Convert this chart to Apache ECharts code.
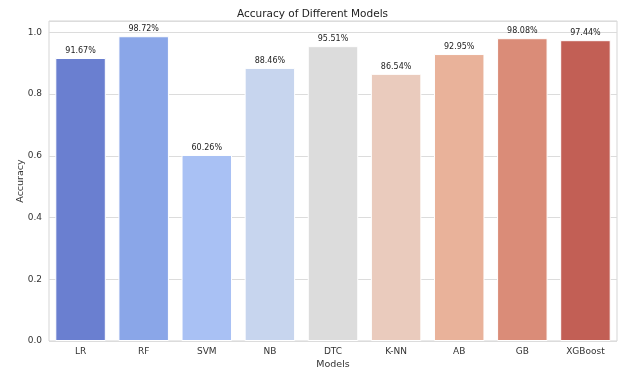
<!DOCTYPE html>
<html><head><meta charset="utf-8">
<script src="https://cdn.jsdelivr.net/npm/echarts@6/dist/echarts.min.js"></script>
<style>html,body{margin:0;padding:0;background:#fff}#c{width:625px;height:370px}</style>
</head><body><div id="c"></div>
<script>
const categories = ['LR','RF','SVM','NB','DTC','K-NN','AB','GB','XGBoost'];
const accuracy = [0.9167,0.9872,0.6026,0.8846,0.9551,0.8654,0.9295,0.9808,0.9744];
const barColors = ['#6a7fd0','#8aa6e8','#a9c1f4','#c7d5ee','#dcdcdc','#eacbbd','#e9b29a','#da8c78','#c25f55'];
const yMax = 0.9872*1.05;
const chart = echarts.init(document.getElementById('c'));
const font = 'DejaVu Sans';
chart.setOption({
  animation:false,
  textStyle:{fontFamily:font},
  title:{text:'Accuracy of Different Models',left:'center',top:4,textStyle:{fontFamily:font,fontSize:10.5,fontWeight:'normal',color:'#222'}},
  grid:{left:49,right:8,top:21,bottom:29,show:true,borderColor:'#d5d5d5',borderWidth:1,containLabel:false,outerBoundsMode:'none'},
  xAxis:{type:'category',data:categories,name:'Models',nameLocation:'middle',nameGap:19,nameMoveOverlap:false,
    nameTextStyle:{fontFamily:font,fontSize:9.5,color:'#333'},
    axisLine:{show:false},axisTick:{show:false},
    axisLabel:{fontFamily:font,fontSize:9,color:'#333',margin:6}},
  yAxis:{type:'value',min:0,max:yMax,interval:0.2,name:'Accuracy',nameLocation:'middle',nameGap:23,nameMoveOverlap:false,
    nameTextStyle:{fontFamily:font,fontSize:9.5,color:'#333'},
    axisLine:{show:false},axisTick:{show:false},
    axisLabel:{fontFamily:font,fontSize:9,color:'#333',margin:7,showMaxLabel:false,formatter:v=>v.toFixed(1)},
    splitLine:{lineStyle:{color:'#dcdcdc',width:1}}},
  series:[{type:'bar',barWidth:'80%',
    data:accuracy.map((v,i)=>({value:v,itemStyle:{color:barColors[i]}})),
    itemStyle:{borderColor:'#ffffff',borderWidth:1},
    label:{show:true,position:'top',distance:3,fontFamily:font,fontSize:8,color:'#222',
      formatter:p=>(p.value*100).toFixed(2)+'%'}}]
});
</script></body></html>
